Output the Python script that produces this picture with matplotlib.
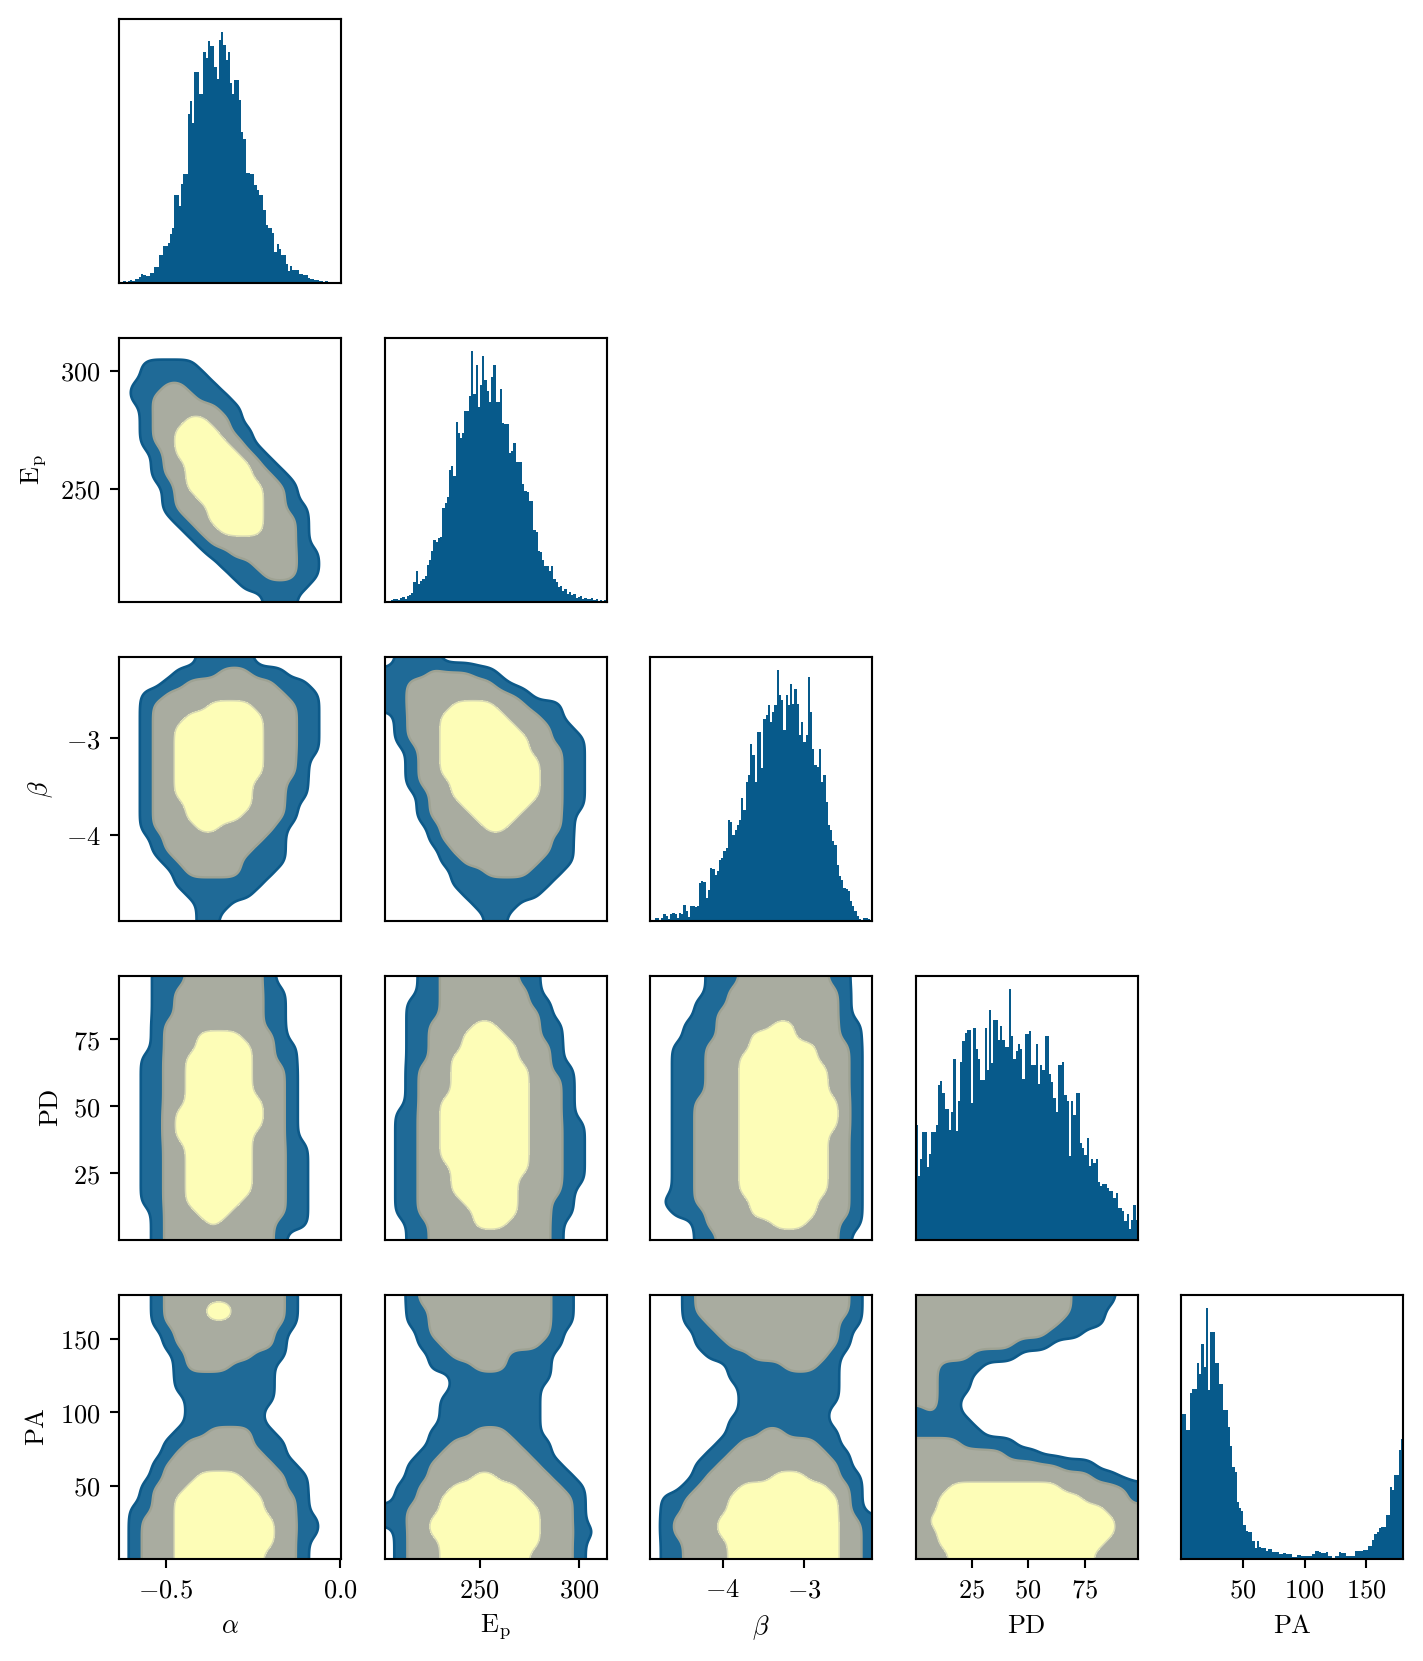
import numpy as np
import matplotlib
matplotlib.use("Agg")
import matplotlib.pyplot as plt

plt.rcParams.update({
    "mathtext.fontset": "cm",
    "font.family": ["DejaVu Serif"],
    "font.size": 10,
    "axes.linewidth": 0.8,
})

# ---------------- data ----------------
labels = [r"$\alpha$", r"$\mathrm{E_p}$", r"$\beta$", r"$\mathrm{PD}$", r"$\mathrm{PA}$"]
ranges = [(-0.634, 0.002), (202.0, 314.0), (-4.89, -2.16), (0.2, 98.6), (0.0, 180.0)]
ticks = [[-0.5, 0.0], [250, 300], [-4, -3], [25, 50, 75], [50, 100, 150]]
tick_labels = [["$-0.5$", "$0.0$"], ["$250$", "$300$"], ["$-4$", "$-3$"],
               ["$25$", "$50$", "$75$"], ["$50$", "$100$", "$150$"]]

alpha_counts = [0, 1, 2, 1, 2, 3, 2, 4, 4, 6,
                9, 8, 7, 7, 10, 10, 16, 16, 28, 28,
                37, 37, 40, 50, 56, 89, 89, 78, 100, 110,
                110, 171, 184, 162, 213, 213, 191, 191, 233, 227,
                244, 239, 239, 218, 206, 245, 254, 240, 225, 233,
                202, 191, 205, 205, 185, 153, 146, 111, 111, 110,
                110, 99, 94, 89, 89, 74, 59, 56, 56, 51,
                31, 39, 34, 28, 28, 19, 12, 17, 13, 13,
                13, 9, 9, 8, 8, 5, 4, 4, 3, 3,
                2, 2, 1, 2, 1, 1, 0, 1, 0, 1]
ep_counts = [0, 3, 0, 5, 8, 10, 6, 12, 15, 10,
             18, 20, 28, 60, 94, 55, 65, 70, 80, 114,
             127, 156, 187, 181, 194, 199, 287, 301, 319, 401,
             414, 382, 546, 514, 499, 514, 579, 579, 626, 764,
             632, 719, 594, 659, 749, 674, 642, 609, 684, 719,
             607, 609, 646, 544, 542, 542, 454, 459, 484, 426,
             426, 424, 359, 337, 334, 306, 306, 219, 212, 156,
             152, 129, 109, 109, 94, 109, 70, 60, 45, 50,
             35, 40, 25, 30, 20, 25, 12, 15, 18, 10,
             12, 8, 10, 12, 5, 8, 4, 6, 3, 5]
beta_counts = [2, 3, 10, 8, 3, 8, 20, 15, 6, 20,
               25, 20, 8, 25, 22, 48, 30, 12, 45, 45,
               42, 44, 115, 120, 118, 70, 95, 160, 158, 140,
               150, 185, 190, 210, 220, 305, 300, 260, 275, 290,
               305, 370, 335, 420, 440, 535, 500, 420, 570, 570,
               460, 610, 620, 650, 600, 630, 650, 758, 680, 665,
               575, 680, 650, 715, 655, 700, 655, 560, 600, 540,
               560, 735, 630, 520, 470, 465, 520, 420, 440, 360,
               290, 275, 240, 230, 170, 135, 125, 100, 98, 92,
               60, 45, 30, 15, 6, 4, 8, 8, 6, 2]
pd_counts = [348, 193, 246, 325, 325, 220, 261, 325, 325, 348,
             468, 482, 443, 396, 396, 333, 388, 546, 328, 420,
             538, 601, 625, 635, 635, 413, 641, 578, 546, 483,
             483, 641, 513, 696, 536, 665, 665, 603, 648, 603,
             583, 583, 760, 618, 546, 570, 593, 578, 486, 623,
             623, 633, 530, 530, 593, 473, 530, 513, 616, 616,
             503, 478, 428, 388, 530, 530, 538, 438, 420, 255,
             420, 378, 443, 443, 293, 278, 258, 308, 223, 245,
             233, 245, 176, 163, 168, 168, 158, 148, 148, 126,
             143, 98, 98, 88, 58, 80, 33, 60, 105, 60]
pa_counts = [436, 436, 388, 388, 501, 513, 513, 591, 558, 648,
             580, 758, 508, 683, 683, 591, 591, 528, 528, 450,
             450, 398, 340, 278, 261, 171, 155, 146, 103, 85,
             80, 80, 53, 33, 53, 36, 33, 33, 23, 30,
             30, 20, 20, 20, 16, 16, 18, 16, 16, 16,
             6, 6, 12, 12, 8, 8, 8, 10, 10, 15,
             23, 23, 20, 17, 17, 20, 8, 8, 3, 10,
             10, 20, 18, 18, 8, 8, 8, 8, 23, 23,
             25, 25, 28, 28, 38, 38, 58, 76, 80, 93,
             98, 98, 133, 133, 216, 208, 253, 253, 328, 363]
hist_counts = [alpha_counts, ep_counts, beta_counts, pd_counts, pa_counts]

# coarse density-level maps (0 = outside, 1 = outer, 2 = middle, >=3 = inner region), rows top -> bottom
level_maps = {
    (1, 0): ["00000000000000000000", "00000000000000000000", "00111110000000000000",
             "00111111000000000000", "01112211100000000000", "01122221110000000000",
             "00122222211000000000", "00122233221000000000", "00122333321100000000",
             "00122333332100000000", "00012333333210000000", "00012233333321000000",
             "00012233333322100000", "00001233333332210000", "00001223333332210000",
             "00001222333332211000", "00000122333332221000", "00000012233332221000",
             "00000001222222221000", "00000000112222221100", "00000000011122221100",
             "00000000001112221100", "00000000000111111000", "00000000000001110000"],
    (2, 0): ["00000001111100000000", "00000111122211100000", "00001122222222111000",
             "00112222222222211100", "00122222333322221100", "00122233333332221100",
             "00122333333332221100", "00122333333332221100", "00122333333332221100",
             "00122333333332221000", "00122333333332221000", "00122333333322211000",
             "00122333333322211000", "00122233333322210000", "00122233333222210000",
             "00122223322222100000", "00012222222221100000", "00012222222211100000",
             "00001222222111100000", "00000122222111000000", "00000111111110000000",
             "00000011111100000000", "00000001110000000000", "00000001100000000000"],
    (2, 1): ["01111000000000000000", "11112222110000000000", "11222222221000000000",
             "11222222222210000000", "11222233332221110000", "01222333333222110000",
             "01222333333322211000", "01222333333332211100", "00122333333332221100",
             "00122333333333221100", "00122333333333221100", "00122233333333221100",
             "00012233333333221100", "00012223333332221100", "00012222333322221000",
             "00001222233222221000", "00001222222222211000", "00000122222222211000",
             "00000112222222111000", "00000011122221110000", "00000011111111100000",
             "00000001111111000000", "00000000111100000000", "00000000011000000000"],
    (3, 0): ["00011122222221000000", "00011222222221100000", "00011222222221100000",
             "00011222222221100000", "00012222222221100000", "00012223333222100000",
             "00012223333322110000", "00112233333322110000", "00112233333322210000",
             "00112233333322210000", "00112233333322210000", "00112233333332210000",
             "00112333333332210000", "00112333333332210000", "00112333333322210000",
             "00112233333322211000", "00112233333322211000", "00112233333322211000",
             "00112233333322211000", "00112233333322211000", "00112233333222211000",
             "00012223332222211000", "00012222322222111000", "00012222222222100000"],
    (3, 1): ["00011222222211000000", "00011222222221000000", "00111222222221100000",
             "00111222222222100000", "00112222332222110000", "00112223333222110000",
             "00112223333322210000", "00112233333322210000", "00122233333332211000",
             "00122233333332221000", "00122233333332221000", "00122333333332221000",
             "01122333333332221000", "01122333333332221100", "01122333333332221100",
             "01122333333332221100", "01122333333332221100", "01122233333332221100",
             "01122233333322221100", "01122233333322221000", "01122223333322211000",
             "01122222333322211000", "00112222333222210000", "00112222222222210000"],
    (3, 2): ["00000111222222221100", "00000112222222222100", "00001112222222222100",
             "00001122222222222100", "00011122222332222110", "00011122233332222110",
             "00111222233333322210", "00111222333333322210", "00111222333333332210",
             "00111222333333332210", "00111222333333332210", "00112222333333333210",
             "00112222333333333210", "00112222333333333210", "00112222333333332210",
             "00112222333333332210", "00112222333333332210", "00112222333333332210",
             "00112222333333332210", "00112222333333332210", "01112222233333322210",
             "00111222233333322210", "00001222222333222110", "00001122222222222100"],
    (4, 0): ["00012222222222210000", "00012222442222210000", "00012222222222210000",
             "00001222222222100000", "00001222222222100000", "00000122222211100000",
             "00000122221111000000", "00000111111111000000", "00000111111111000000",
             "00000011111111000000", "00000011111110000000", "00000011111110000000",
             "00000111222211000000", "00001122222211100000", "00001222222221100000",
             "00012222222222110000", "00012223333222211000", "00122233333322211000",
             "00122333333332221000", "01122333333332221000", "01222333333333221100",
             "01222333333333221100", "01222333333333221000", "01222333333332221000"],
    (4, 1): ["00122222222222211000", "00112222222222211000", "00112222222222211000",
             "00012222222222210000", "00011222222222110000", "00001122222111100000",
             "00001111222111100000", "00000011111111100000", "00000011111111000000",
             "00000111111111000000", "00000111111111000000", "00000111111111000000",
             "00001111222111000000", "00001122222211100000", "00011222222221100000",
             "00112222222222110000", "00112222332222211000", "01122233333322221100",
             "01122333333332222100", "11222333333333222100", "11223333333333222100",
             "01223333333333222110", "01222333333333222100", "01222333333332222100"],
    (4, 2): ["00012222222222222210", "00012222222222222210", "00011222222222222110",
             "00001122222222222100", "00001112222222222100", "00000111122222221000",
             "00000001111122211000", "00000001111111111000", "00000000111111111000",
             "00000000111111111000", "00000000111111110000", "00000001111111110000",
             "00000001112211111000", "00000011222222211000", "00000112222222221100",
             "00001122222222222100", "00001222222333222110", "00012222333333332210",
             "01122223333333333210", "01122223333333333210", "01222233333333333221",
             "01222233333333333221", "01122223333333333221", "01122223333333333221"],
    (4, 3): ["22222222222222111100", "22222222222222111000", "22222222222221111000",
             "22222222222211100000", "22222222211100000000", "22222111100000000000",
             "22111100000000000000", "22111000000000000000", "22111000000000000000",
             "22110000000000000000", "12110000000000000000", "11111000000000000000",
             "11111100000000000000", "22221111100000000000", "22222222111000000000",
             "22222222222221110000", "22222222222222221100", "22233333333332222221",
             "22333333333333322221", "22333333333333333222", "23333333333333333322",
             "22333333333333333322", "22333333333333333222", "22233333333333332222"],
}

# ---------------- style ----------------
hist_color = "#075a8b"
fill_colors = ["#1f6a97", "#a9aca0", "#fdfdb7"]
edge_colors = ["#0d5a8a", "#9ea293", "#d9dab4"]


def smooth_levels(rows, k=12, sigma=8.0):
    grid = np.array([[int(c) for c in r] for r in rows], dtype=float)
    up = np.kron(grid, np.ones((k, k)))
    rad = int(3 * sigma)
    xs = np.arange(-rad, rad + 1)
    ker = np.exp(-xs ** 2 / (2 * sigma ** 2))
    ker /= ker.sum()
    padded = np.pad(up, rad, mode="edge")
    tmp = np.apply_along_axis(lambda v: np.convolve(v, ker, mode="valid"), 0, padded)
    out = np.apply_along_axis(lambda v: np.convolve(v, ker, mode="valid"), 1, tmp)
    return out


fig, axes = plt.subplots(5, 5, figsize=(1423 / 190, 1661 / 190), dpi=190)
fig.subplots_adjust(left=0.0836, right=0.9862, bottom=0.0614, top=0.98856,
                    wspace=0.196, hspace=0.208)

n = 5
for i in range(n):
    for j in range(n):
        ax = axes[i, j]
        if j > i:
            ax.axis("off")
            continue
        if i == j:
            counts = np.asarray(hist_counts[i], dtype=float)
            lo, hi = ranges[i]
            edges = np.linspace(lo, hi, len(counts) + 1)
            ax.bar(edges[:-1], counts, width=np.diff(edges), align="edge",
                   color=hist_color, linewidth=0)
            ax.set_xlim(lo, hi)
            ax.set_yticks([])
        else:
            Z = smooth_levels(level_maps[(i, j)])
            xlo, xhi = ranges[j]
            ylo, yhi = ranges[i]
            xg = np.linspace(xlo, xhi, Z.shape[1])
            yg = np.linspace(yhi, ylo, Z.shape[0])
            ax.contourf(xg, yg, Z, levels=[0.5, 1.5, 2.5, 10], colors=fill_colors)
            ax.contour(xg, yg, Z, levels=[0.5, 1.5, 2.5], colors=edge_colors,
                       linewidths=[1.0, 0.9, 0.6])
            ax.set_xlim(xlo, xhi)
            ax.set_ylim(ylo, yhi)
            if j == 0:
                ax.set_yticks(ticks[i], tick_labels[i])
                ax.set_ylabel(labels[i])
            else:
                ax.set_yticks([])
        if i == n - 1:
            ax.set_xticks(ticks[j], tick_labels[j])
            ax.set_xlabel(labels[j])
        else:
            ax.set_xticks([])

fig.savefig("out.png", dpi=190)
